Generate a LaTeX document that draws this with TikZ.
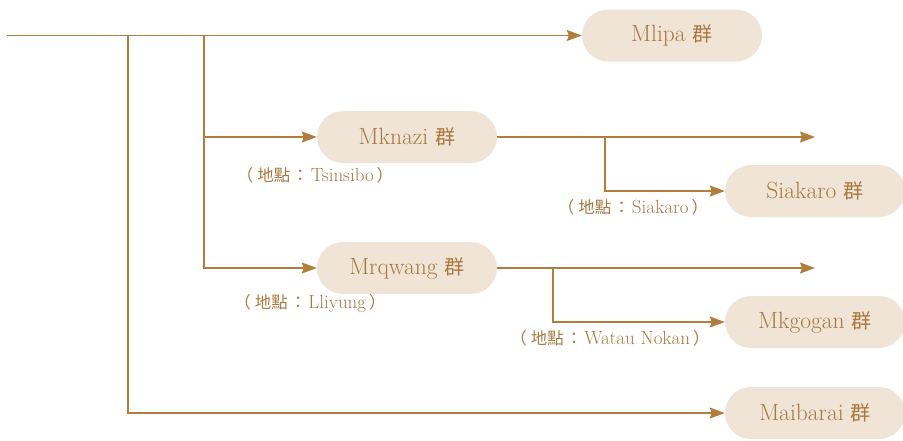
\documentclass[tikz,border=0pt]{standalone}
\usepackage{fontspec}
\newfontfamily\cjk{Noto Sans CJK TC}
\usetikzlibrary{arrows.meta}
\definecolor{ln}{RGB}{178,125,58}
\definecolor{bx}{RGB}{240,228,214}
\definecolor{tx}{RGB}{168,120,62}
\newcommand{\qun}{{\cjk\fontsize{20}{24}\selectfont 群}}
\newcommand{\lopen}{{\cjk\fontsize{16.5}{20}\selectfont （\hspace{4pt}地點\hspace{2pt}：\hspace{2pt}}}
\newcommand{\lclose}{{\cjk\fontsize{16.5}{20}\selectfont \hspace{3pt}）}}
\tikzset{
  grp/.style={rectangle, rounded corners=26pt, fill=bx, minimum width=180pt, minimum height=52pt, inner sep=0pt, text=tx, font=\fontsize{23.5}{26}\selectfont},
  loc/.style={text=tx, font=\fontsize{19}{22}\selectfont, inner sep=0pt},
  link/.style={draw=ln, line width=1.2pt},
  arr/.style={link, -{Stealth[length=15pt,width=11pt,inset=2pt]}}
}
\begin{document}
\begin{tikzpicture}[x=1pt,y=-1pt]
\useasboundingbox (0,0) rectangle (903,440);
\node[grp] (mlipa) at (672,35.5) {Mlipa \qun};
\node[grp] (mknazi) at (407,137) {Mknazi \qun};
\node[grp] (siakaro) at (815,191) {Siakaro \qun};
\node[grp] (mrqwang) at (407,268) {Mrqwang \qun};
\node[grp] (mkgogan) at (815,322) {Mkgogan \qun};
\node[grp] (maibarai) at (815,413) {Maibarai \qun};
\node[loc] (l1) at (315,175) {\lopen Tsinsibo\lclose};
\node[loc] (l2) at (633,207) {\lopen Siakaro\lclose};
\node[loc] (l3) at (310,303) {\lopen Lliyung\lclose};
\node[loc] (l4) at (610,338) {\lopen Watau Nokan\lclose};
\coordinate (start) at (7,35.5);
\coordinate (j1) at (128,35.5);
\coordinate (j2) at (204,35.5);
\coordinate (e1) at (815,137);
\coordinate (b1) at (605,137);
\coordinate (e2) at (815,268);
\coordinate (b2) at (553,268);
\draw[arr] (start) -- (mlipa.west);
\draw[arr] (j2) |- (mknazi.west);
\draw[arr] (j2) |- (mrqwang.west);
\draw[arr] (j1) |- (maibarai.west);
\draw[arr] (mknazi.east) -- (e1);
\draw[arr] (b1) |- (siakaro.west);
\draw[arr] (mrqwang.east) -- (e2);
\draw[arr] (b2) |- (mkgogan.west);
\end{tikzpicture}
\end{document}
